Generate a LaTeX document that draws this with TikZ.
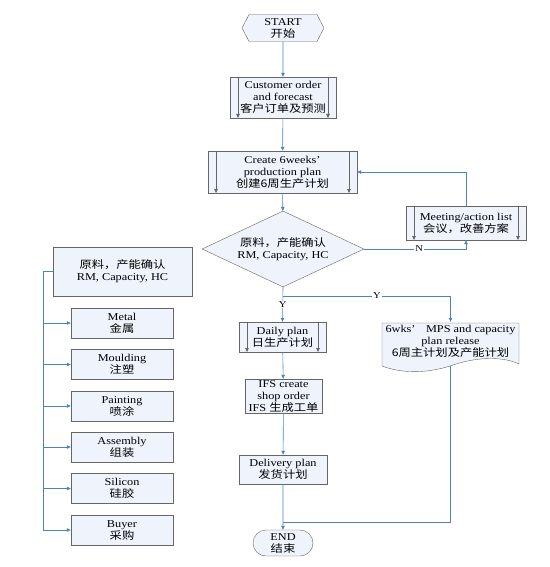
\documentclass[tikz,border=0pt]{standalone}
\usepackage{fontspec}
\setmainfont[FakeStretch=1.17]{Liberation Serif}
\newfontfamily\cjk[FakeStretch=1.17]{Noto Sans CJK SC}
\usetikzlibrary{arrows.meta,shapes.geometric,shapes.symbols,shapes.misc}

\definecolor{flowblue}{HTML}{4F81BD}
\definecolor{boxfill}{HTML}{EEF3FC}
\definecolor{boxline}{HTML}{666666}

\tikzset{
	box/.style={draw=boxline, fill=boxfill, align=center, inner sep=1pt, font=\fontsize{10.5}{12}\selectfont},
	subproc/.style={box, path picture={
		\draw[boxline] ([xshift=8pt]path picture bounding box.north west) -- ([xshift=8pt]path picture bounding box.south west);
		\draw[boxline] ([xshift=-8pt]path picture bounding box.north east) -- ([xshift=-8pt]path picture bounding box.south east);}},
	startbox/.style={box, signal, signal to=west and east, signal pointer angle=125},
	endbox/.style={box, rounded rectangle},
	flow/.style={draw=flowblue, line width=0.6pt},
	lbl/.style={fill=white, inner sep=1pt, font=\fontsize{9}{10}\selectfont},
}

\begin{document}
\begin{tikzpicture}[x=1pt, y=-1pt, arrows={-Triangle[length=4pt,width=3.5pt]}]
	\useasboundingbox (0,0) rectangle (549,567);

	% main column
	\node [startbox, minimum width=82pt, minimum height=27pt] (start) at (283,28) {START\\{\cjk 开始}};
	\node [subproc, minimum width=106pt, minimum height=41pt] (order) at (283,97.5) {Customer order\\and forecast\\{\cjk 客户订单及预测}};
	\node [subproc, minimum width=149pt, minimum height=42pt] (create) at (282.5,172) {Create 6weeks’\\production plan\\{\cjk 创建6周生产计划}};
	\node [box, diamond, aspect=2.13, inner sep=0pt, minimum width=162pt, minimum height=76pt] (check) at (283,249) {{\cjk 原料，产能确认}\\RM, Capacity, HC};
	\node [subproc, minimum width=120pt, minimum height=34pt] (meeting) at (466,223) {Meeting/action list\\{\cjk 会议，改善方案}};
	\node [subproc, minimum width=87pt, minimum height=30pt] (daily) at (282.5,337) {Daily plan\\{\cjk 日生产计划}};
	\node [box, minimum width=77pt, minimum height=34pt] (ifs) at (283.5,396) {IFS create\\shop order\\IFS {\cjk 生成工单}};
	\node [box, minimum width=88pt, minimum height=29pt] (delivery) at (283,469.5) {Delivery plan\\{\cjk 发货计划}};
	\node [endbox, minimum width=62pt, minimum height=26pt] (end) at (283,543) {END\\{\cjk 结束}};

	% document shape
	\draw [boxline, fill=boxfill] (382,323) -- (519,323) -- (519,364) .. controls (500,355) and (472,358) .. (450,366) .. controls (425,374) and (400,373) .. (382,366) -- cycle;
	\node [box, draw=none, fill=none, minimum width=137pt, minimum height=38pt] (mps) at (450.5,341) {6wks’\quad MPS and capacity\\plan release\\{\cjk 6周主计划及产能计划}};
	\coordinate (mpsbot) at (450,366);

	% left column
	\node [box, minimum width=139pt, minimum height=49pt] (rmbox) at (122.5,271.5) {{\cjk 原料，产能确认}\\RM, Capacity, HC};
	\node [box, minimum width=102pt, minimum height=30pt] (metal) at (122,323) {Metal\\{\cjk 金属}};
	\node [box, minimum width=102pt, minimum height=30pt] (moulding) at (122,364.5) {Moulding\\{\cjk 注塑}};
	\node [box, minimum width=102pt, minimum height=30pt] (painting) at (122,406) {Painting\\{\cjk 喷涂}};
	\node [box, minimum width=102pt, minimum height=30pt] (assembly) at (122,447) {Assembly\\{\cjk 组装}};
	\node [box, minimum width=102pt, minimum height=30pt] (silicon) at (122,488.5) {Silicon\\{\cjk 硅胶}};
	\node [box, minimum width=102pt, minimum height=30pt] (buyer) at (122,530) {Buyer\\{\cjk 采购}};

	\coordinate (split) at (283,296);
	\coordinate (join) at (283,522);

	\draw [flow] (start) -- (order);
	\draw [flow] (order) -- (create);
	\draw [flow] (create) -- (check);
	\draw [flow] (check.east) -| node [lbl, pos=0.27] {N} (meeting.south);
	\draw [flow] (meeting.north) |- (create.east);
	\draw [flow] (check.south) -- node [lbl, pos=0.5] {Y} (daily.north);
	\draw [flow] (split) -| node [lbl, pos=0.28] {Y} (mps.north);
	\draw [flow] (daily) -- (ifs);
	\draw [flow] (ifs) -- (delivery);
	\draw [flow] (delivery) -- (end);
	\draw [flow, -] (mpsbot) |- (join);
	\foreach \n in {metal,moulding,painting,assembly,silicon,buyer}
		\draw [flow] (rmbox.west) -- ++(-10,0) |- (\n.west);
\end{tikzpicture}
\end{document}
